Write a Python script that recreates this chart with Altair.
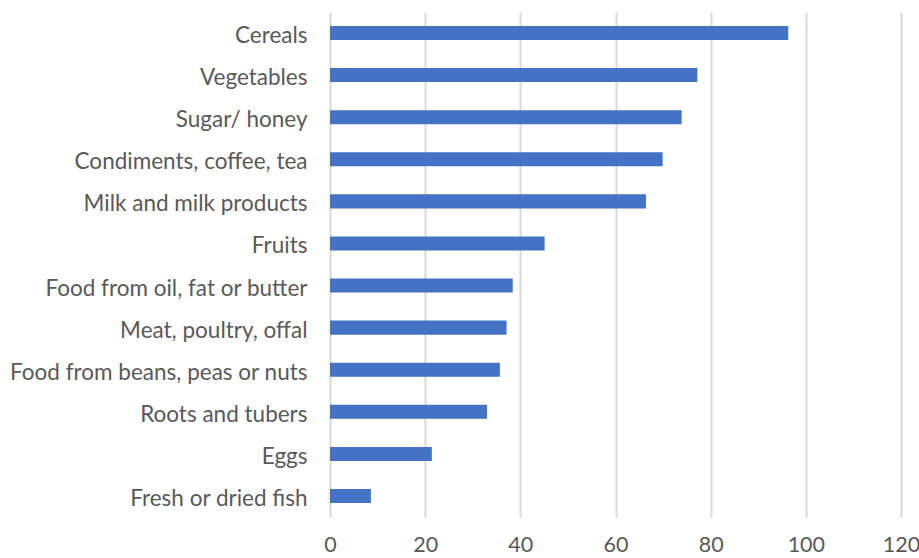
import altair as alt
import pandas as pd

categories = [
    "Cereals", "Vegetables", "Sugar/ honey", "Condiments, coffee, tea",
    "Milk and milk products", "Fruits", "Food from oil, fat or butter",
    "Meat, poultry, offal", "Food from beans, peas or nuts",
    "Roots and tubers", "Eggs", "Fresh or dried fish",
]
values = [96.3, 77.2, 73.9, 69.9, 66.4, 45.1, 38.4, 37.1, 35.7, 33.0, 21.4, 8.6]
x_ticks = [0, 20, 40, 60, 80, 100, 120]

df = pd.DataFrame({"category": categories, "value": values})

chart = (
    alt.Chart(df)
    .mark_bar(color="#4472C4")
    .encode(
        x=alt.X(
            "value:Q",
            scale=alt.Scale(domain=[0, 120], nice=False),
            axis=alt.Axis(
                values=x_ticks, title=None, domain=False, ticks=False,
                grid=True, gridColor="#d9d9d9", gridWidth=2,
                labelFont="Lato", labelFontSize=21.5, labelColor="#595959",
                labelPadding=17, labelFlush=False,
            ),
        ),
        y=alt.Y(
            "category:N",
            sort=categories,
            scale=alt.Scale(paddingInner=0.667, paddingOuter=0.333),
            axis=alt.Axis(
                title=None, domain=False, ticks=False, grid=False,
                labelFont="Lato", labelFontSize=22.5, labelColor="#595959",
                labelPadding=23, labelLimit=400, labelOffset=3,
            ),
        ),
    )
    .properties(
        width=571, height=505,
        autosize=alt.AutoSizeParams(type="none"),
        padding={"left": 330, "top": 12, "right": 18, "bottom": 41},
    )
    .configure_view(stroke=None)
)

chart.save("out.html", embed_options={"renderer": "svg", "actions": False})
